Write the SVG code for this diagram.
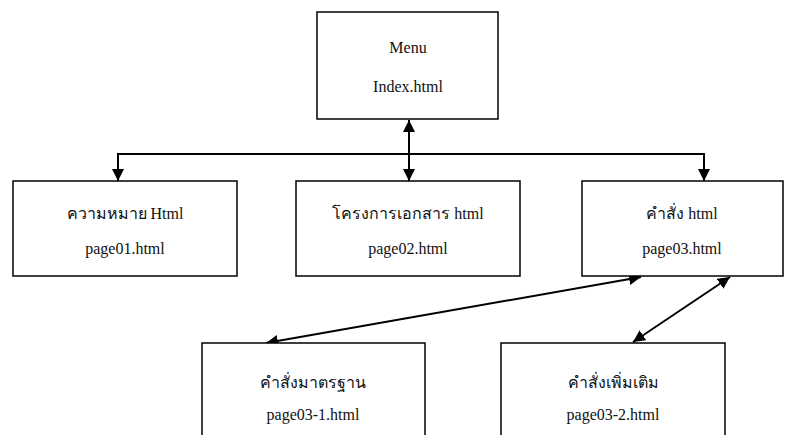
<svg xmlns="http://www.w3.org/2000/svg" width="793" height="435" viewBox="0 0 793 435">
<style>
.box{fill:#fff;stroke:#000;stroke-width:1.5}
.t{font-family:"Liberation Serif","Times New Roman",serif;font-size:16px;fill:#111;text-anchor:middle}
.c{fill:none;stroke:#000;stroke-width:2}
</style>
<defs>
<marker id="ah" viewBox="0 0 10 10" refX="10" refY="5" markerWidth="6" markerHeight="6" orient="auto-start-reverse" markerUnits="strokeWidth">
<path d="M0,0 L10,5 L0,10 z" fill="#000"/>
</marker>
</defs>
<rect width="793" height="435" fill="#fff"/>
<g id="connectors">
<line class="c" x1="409" y1="120" x2="409" y2="181" marker-start="url(#ah)" marker-end="url(#ah)"/>
<polyline class="c" points="118,181 118,154 704,154 704,181" marker-start="url(#ah)" marker-end="url(#ah)"/>
<line class="c" x1="266" y1="343" x2="641" y2="277" marker-start="url(#ah)" marker-end="url(#ah)"/>
<line class="c" x1="633" y1="342" x2="730" y2="277" marker-start="url(#ah)" marker-end="url(#ah)"/>
</g>
<g id="menu">
<rect class="box" x="317" y="12" width="181" height="107"/>
<text class="t" x="408" y="53">Menu</text>
<text class="t" x="408" y="92">Index.html</text>
</g>
<g id="page01">
<rect class="box" x="13" y="181" width="224" height="95"/>
<text class="t" x="125" y="219">ความหมาย Html</text>
<text class="t" x="125" y="254">page01.html</text>
</g>
<g id="page02">
<rect class="box" x="296" y="181" width="224" height="95"/>
<text class="t" x="408" y="219">โครงการเอกสาร html</text>
<text class="t" x="408" y="254">page02.html</text>
</g>
<g id="page03">
<rect class="box" x="582" y="181" width="201" height="95"/>
<text class="t" x="682" y="219">คำสั่ง html</text>
<text class="t" x="682" y="254">page03.html</text>
</g>
<g id="page03-1">
<rect class="box" x="202" y="343" width="223" height="100"/>
<text class="t" x="313" y="388">คำสั่งมาตรฐาน</text>
<text class="t" x="313" y="420">page03-1.html</text>
</g>
<g id="page03-2">
<rect class="box" x="501" y="343" width="224" height="100"/>
<text class="t" x="613" y="388">คำสั่งเพิ่มเติม</text>
<text class="t" x="613" y="420">page03-2.html</text>
</g>
</svg>
